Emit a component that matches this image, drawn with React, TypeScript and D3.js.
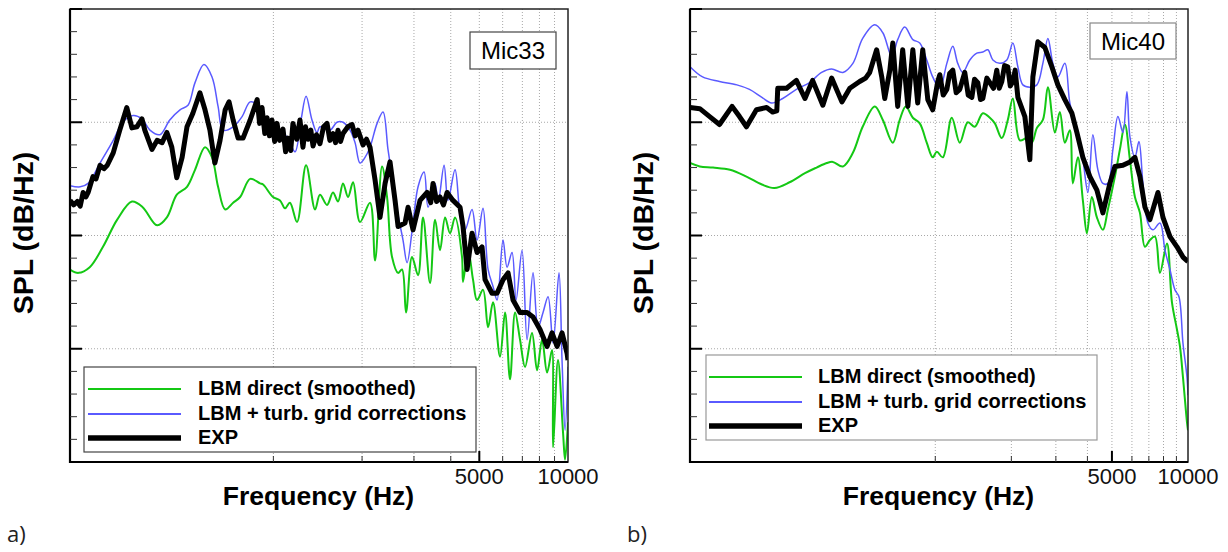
import React from "react";
import * as d3 from "d3";

// ---------- DATA (frequency in Hz, SPL in dB/Hz) ----------
const seriesNames = ["LBM direct (smoothed)", "LBM + turb. grid corrections", "EXP"];
const xTickLabels = [5000, 10000];
const gridFreqs = [1000, 2000, 3000, 4000, 5000, 6000, 7000, 8000, 9000];
const panelLabels = ["a)", "b)"];
const micLabels = ["Mic33", "Mic40"];

const micA_direct: [number, number][] = [
  [204,37.0],[218,36.7],[238,37.2],[264,39.0],[295,41.4],[331,43.0],[360,42.5],[403,40.9],[435,41.6],[470,43.6],
  [509,44.3],[542,45.8],[586,47.8],[619,46.9],[649,44.3],[686,42.3],[730,42.9],[771,43.4],[834,45.0],[901,44.6],
  [923,44.5],[997,43.4],[1053,43.1],[1095,42.4],[1138,42.9],[1203,41.2],[1291,46.2],[1385,42.3],[1439,43.6],[1521,42.7],
  [1593,43.8],[1657,43.0],[1723,44.6],[1792,43.4],[1864,44.7],[1968,41.2],[2128,42.9],[2214,37.8],[2338,46.1],[2431,43.4],
  [2528,38.1],[2650,36.7],[2733,37.0],[2820,33.2],[2955,38.1],[3098,36.5],[3221,41.6],[3402,35.8],[3539,41.4],[3678,38.7],
  [3826,41.6],[3976,40.2],[4136,41.6],[4368,38.1],[4403,35.9],[4580,38.7],[4760,36.1],[4913,34.3],[5147,35.2],[5354,31.9],
  [5566,34.1],[5878,29.3],[6114,33.2],[6356,27.3],[6612,33.2],[6873,30.8],[7149,28.4],[7549,31.4],[7852,28.1],[8164,30.8],
  [8492,27.9],[8827,29.9],[8897,21.3],[9248,29.0],[9620,22.6],[9773,20.2],[10000,23.5]
];
const micA_corr: [number, number][] = [
  [204,44.4],[221,44.3],[235,44.6],[258,46.4],[286,48.4],[308,50.0],[334,50.6],[358,50.3],[381,49.3],[412,48.9],
  [445,50.2],[482,51.1],[513,51.5],[542,53.5],[581,55.1],[619,54.0],[649,51.4],[675,49.3],[730,49.6],[783,50.5],
  [834,51.8],[888,51.5],[952,49.9],[1029,49.3],[1113,48.7],[1184,47.4],[1241,50.2],[1291,52.3],[1352,50.2],[1406,49.1],
  [1439,49.6],[1556,49.3],[1644,50.0],[1723,50.0],[1820,49.3],[1893,48.2],[1968,46.4],[2047,46.9],[2128,47.8],[2249,49.9],
  [2356,50.9],[2449,47.6],[2547,44.6],[2650,41.8],[2754,39.6],[2843,37.6],[2978,41.1],[3098,44.3],[3247,45.6],[3350,42.5],
  [3539,44.6],[3623,42.9],[3796,46.2],[3914,43.1],[4136,45.8],[4300,42.0],[4473,40.5],[4723,42.3],[4913,39.6],[5147,42.4],
  [5354,37.0],[5566,35.5],[5744,34.3],[6018,39.6],[6211,37.2],[6457,38.5],[6664,34.3],[6982,38.7],[7263,30.8],[7609,36.7],
  [7914,31.9],[8228,33.2],[8558,34.6],[8897,30.5],[9321,36.7],[9544,29.0],[9773,22.8],[10000,28.4]
];
const micA_exp: [number, number][] = [
  [204,43.1],[210,42.7],[216,43.0],[221,42.6],[226,43.8],[231,43.4],[235,43.8],[244,45.2],[250,45.0],[258,46.2],[266,45.9],[273,46.2],[286,47.3],[301,49.3],[318,51.3],
  [331,49.5],[344,49.6],[358,50.3],[366,49.3],[387,47.6],[403,48.4],[419,48.2],[435,49.1],[452,47.8],[470,45.1],
  [490,46.9],[509,49.6],[533,50.8],[563,52.6],[586,51.1],[609,49.3],[633,46.4],[659,48.4],[686,51.1],[707,51.8],
  [730,50.2],[759,48.6],[789,48.6],[834,50.2],[881,52.0],[898,49.9],[915,51.3],[935,49.0],[952,50.4],[970,48.8],[989,50.2],[1010,48.3],
  [1029,49.9],[1050,48.4],[1078,49.4],[1100,47.4],[1121,48.6],[1145,47.5],[1165,49.9],[1200,48.5],[1231,50.2],[1260,47.8],
  [1285,49.6],[1311,48.5],[1340,49.3],[1363,47.9],[1400,48.9],[1439,48.1],[1480,49.6],[1521,49.9],[1555,48.4],[1593,49.0],
  [1625,48.2],[1657,49.3],[1690,48.3],[1723,49.0],[1790,49.6],[1849,49.8],[1895,48.8],[1937,49.3],[2015,48.0],[2070,48.5],
  [2128,47.8],[2214,44.9],[2301,41.6],[2394,44.6],[2488,46.5],[2588,43.1],
  [2650,40.8],[2798,41.1],[2865,42.5],[2978,40.5],[3146,43.1],[3324,43.8],[3420,42.9],[3483,44.6],[3580,43.0],[3678,43.4],[3780,42.7],[3887,43.8],[4071,43.1],
  [4300,42.5],[4403,40.8],[4544,37.0],[4723,40.2],[4913,38.5],[5107,39.0],[5229,36.1],[5522,34.9],[5744,34.9],[6018,36.1],
  [6260,36.7],[6508,34.3],[6873,33.2],[7263,33.2],[7609,32.8],[8036,31.7],[8492,30.2],[8827,31.4],[9182,30.2],[9544,31.4],
  [9928,29.6],[10000,29.0]
];

const micB_direct: [number, number][] = [
  [107,46.4],[117,46.1],[132,46.0],[154,45.8],[179,45.2],[206,44.5],[231,44.2],[265,44.7],[305,45.5],[339,46.0],
  [372,46.4],[393,46.5],[431,46.1],[472,47.3],[516,49.6],[576,51.4],[620,50.2],[679,48.2],[723,50.2],[764,51.4],
  [815,50.4],[868,49.9],[925,48.2],[977,46.9],[1014,47.4],[1071,46.9],[1162,50.4],[1250,48.2],[1345,50.0],[1434,49.6],
  [1542,50.8],[1644,50.4],[1721,49.9],[1833,48.6],[1936,50.2],[2027,52.1],[2161,48.4],[2304,48.6],[2411,48.2],[2523,49.5],
  [2665,50.2],[2790,53.1],[2973,49.1],[3111,50.9],[3256,48.2],[3408,49.3],[3502,44.6],[3666,46.9],[3837,43.1],[3980,40.2],
  [4165,43.4],[4360,41.6],[4605,40.5],[4820,42.3],[5138,45.2],[5377,47.6],[5628,49.8],[5891,46.7],[6166,43.4],[6453,42.0],
  [6754,39.0],[7069,39.6],[7399,39.9],[7745,36.7],[8256,39.3],[8640,34.1],[9044,31.7],[9294,30.2],[9551,27.5],[9909,23.5],
  [10000,22.8]
];
const micB_corr: [number, number][] = [
  [107,54.9],[120,54.0],[140,53.6],[164,53.3],[184,52.9],[206,52.2],[225,51.7],[249,52.1],[282,52.9],[318,53.5],
  [355,54.4],[389,54.7],[431,54.4],[472,55.2],[516,57.4],[576,58.6],[620,57.9],[673,55.8],[710,57.3],[757,58.4],
  [815,57.3],[868,57.0],[925,55.5],[977,54.0],[1042,53.0],[1111,55.2],[1173,56.7],[1227,55.2],[1285,54.4],[1370,55.5],
  [1460,56.1],[1542,56.2],[1614,56.4],[1690,55.5],[1800,55.2],[1919,55.5],[2027,57.0],[2122,54.9],[2221,53.3],[2367,53.1],
  [2523,53.3],[2665,55.2],[2790,57.4],[2919,55.2],[3055,54.0],[3256,55.2],[3408,51.7],[3633,49.3],[3837,46.7],[4017,43.8],
  [4203,48.9],[4400,45.8],[4605,44.6],[4820,44.6],[5045,47.6],[5281,50.5],[5526,49.1],[5732,52.7],[5891,48.7],[6166,46.9],
  [6396,48.3],[6632,44.6],[6942,41.1],[7265,40.5],[7745,41.1],[8107,38.7],[8484,37.0],[8880,35.2],[9209,34.6],[9551,30.5],
  [9909,27.5],[10000,25.9]
];
const micB_exp: [number, number][] = [
  [107,51.3],[117,51.2],[128,50.5],[140,49.8],[157,51.4],[168,50.5],[179,49.6],[196,51.1],[215,51.3],[227,50.9],
  [236,51.0],[238,53.0],[258,53.0],[282,53.7],[305,52.1],[327,53.7],[359,51.5],[389,53.9],[427,51.8],[459,53.0],[502,53.6],
  [530,53.9],[550,54.4],[586,56.4],[614,54.0],[631,52.1],[661,54.6],[679,57.0],[710,51.4],[743,56.4],[779,51.4],[815,56.4],
  [852,51.7],[892,56.4],[934,52.0],[977,51.1],[1023,53.6],[1042,54.2],[1075,52.4],[1111,52.9],[1140,54.3],[1173,54.6],[1210,52.6],[1250,52.9],[1308,54.4],
  [1350,52.4],[1395,52.2],[1430,53.8],[1473,53.5],[1510,52.0],[1542,52.1],[1600,53.9],[1644,53.5],[1700,53.0],[1751,54.6],[1790,53.0],[1833,53.6],[1880,55.0],[1936,54.9],[1980,53.2],[2027,53.6],[2070,54.6],[2122,52.2],[2262,50.5],
  [2367,46.7],[2433,54.0],[2546,57.1],[2714,56.6],[2892,54.9],[3055,53.3],[3256,52.0],[3471,50.8],[3633,49.1],[3837,46.9],
  [4090,45.2],[4360,44.0],[4605,42.0],[4909,44.6],[5138,46.1],[5526,46.2],[5891,46.5],[6166,46.9],[6453,45.2],[6754,42.5],
  [7069,41.4],[7605,43.8],[7960,41.6],[8484,39.9],[9044,39.0],[9551,38.1],[10000,37.7]
];

const yDomain: [number, number] = [20, 60];
const yMajor = [20, 30, 40, 50, 60];

// ---------- STYLES ----------
const COLORS = ["#14c814", "#5a5aff", "#000000"];
const WIDTHS = [2, 1.5, 5];
const LEGEND_WIDTHS = [2, 2, 5.5];
const FONT = "'Liberation Sans', Arial, Helvetica, sans-serif";

type PanelCfg = {
  id: string;
  left: number; right: number; top: number; bottom: number;
  fmin: number;
  series: [number, number][][];
  mic: string; micBox: { x: number; y: number; w: number; h: number; base: number };
  legend: { x: number; y: number; w: number; h: number; lx0: number; lx1: number; tx: number; bases: number[]; stroke: string };
  micStroke: string;
  label: string; labelX: number;
  splX: number; freqX: number;
};

const panels: PanelCfg[] = [
  {
    id: "a", left: 70, right: 568, top: 9, bottom: 462, fmin: 204,
    series: [micA_direct, micA_corr, micA_exp],
    mic: micLabels[0], micBox: { x: 470, y: 32, w: 86, h: 37, base: 59 },
    legend: { x: 84, y: 367, w: 392, h: 85, lx0: 88, lx1: 181, tx: 198, bases: [395, 420, 444], stroke: "#444" },
    micStroke: "#444",
    label: panelLabels[0], labelX: 7, splX: 33, freqX: 318.5,
  },
  {
    id: "b", left: 690, right: 1188, top: 9, bottom: 462, fmin: 107,
    series: [micB_direct, micB_corr, micB_exp],
    mic: micLabels[1], micBox: { x: 1090, y: 23, w: 86, h: 36, base: 50 },
    legend: { x: 706, y: 355, w: 391, h: 85, lx0: 709, lx1: 802, tx: 818, bases: [383, 408, 432], stroke: "#999" },
    micStroke: "#888",
    label: panelLabels[1], labelX: 627, splX: 653, freqX: 938.5,
  },
];

function Panel({ p }: { p: PanelCfg }) {
  const x = d3.scaleLog().domain([p.fmin, 10000]).range([p.left, p.right]);
  const y = d3.scaleLinear().domain(yDomain).range([p.bottom, p.top]);
  const smooth = d3.line<[number, number]>().x((d) => x(d[0])).y((d) => y(d[1])).curve(d3.curveCatmullRom.alpha(0.5));
  const jagged = d3.line<[number, number]>().x((d) => x(d[0])).y((d) => y(d[1]));
  const yTicks = d3.range(yDomain[0], yDomain[1] + 0.01, 2);
  const midY = 233;
  const clipId = `clip-${p.id}`;
  return (
    <g>
      <defs>
        <clipPath id={clipId}>
          <rect x={p.left} y={p.top} width={p.right - p.left} height={p.bottom - p.top} />
        </clipPath>
      </defs>
      {/* grid */}
      {gridFreqs.map((f) => (
        <line key={"gx" + f} x1={x(f)} x2={x(f)} y1={p.top} y2={p.bottom} stroke="#a8a8a8" strokeWidth={1} strokeDasharray="1 2" />
      ))}
      {yMajor.filter((v) => v > yDomain[0] && v < yDomain[1]).map((v) => (
        <line key={"gy" + v} x1={p.left} x2={p.right} y1={y(v)} y2={y(v)} stroke="#a8a8a8" strokeWidth={1} strokeDasharray="1 2" />
      ))}
      {/* series */}
      <g clipPath={`url(#${clipId})`}>
        {p.series.map((s, i) => (
          <path key={i} d={(i === 2 ? jagged(s) : smooth(s)) || ""} fill="none" stroke={COLORS[i]} strokeWidth={WIDTHS[i]} strokeLinejoin="round" />
        ))}
      </g>
      {/* frame */}
      <rect x={p.left} y={p.top} width={p.right - p.left} height={p.bottom - p.top} fill="none" stroke="#222" strokeWidth={1.5} />
      <line x1={p.left} x2={p.left} y1={p.top} y2={p.bottom + 1} stroke="#000" strokeWidth={2.2} />
      <line x1={p.left - 1} x2={p.right} y1={p.bottom} y2={p.bottom} stroke="#000" strokeWidth={2.2} />
      {/* y ticks */}
      {yTicks.map((v) => {
        const major = yMajor.includes(v);
        return (
          <line key={"yt" + v} x1={p.left} x2={p.left + (major ? 12 : 7)} y1={y(v)} y2={y(v)}
            stroke={major ? "#000" : "#333"} strokeWidth={major ? 2 : 1} />
        );
      })}
      {/* x ticks */}
      {gridFreqs.map((f) => {
        const major = xTickLabels.includes(f);
        return (
          <line key={"xt" + f} x1={x(f)} x2={x(f)} y1={p.bottom} y2={p.bottom - (major ? 11 : 6)}
            stroke={major ? "#000" : "#333"} strokeWidth={major ? 2 : 1} />
        );
      })}
      {xTickLabels.map((f) => (
        <text key={"xl" + f} x={x(f)} y={484} textAnchor="middle" fontFamily={FONT} fontSize={22} fill="#111">{f}</text>
      ))}
      {/* legend */}
      <rect x={p.legend.x} y={p.legend.y} width={p.legend.w} height={p.legend.h} fill="#fff" stroke={p.legend.stroke} strokeWidth={1.2} />
      {seriesNames.map((n, i) => (
        <g key={"lg" + i}>
          <line x1={p.legend.lx0} x2={p.legend.lx1} y1={p.legend.bases[i] - 6} y2={p.legend.bases[i] - 6} stroke={COLORS[i]} strokeWidth={LEGEND_WIDTHS[i]} />
          <text x={p.legend.tx} y={p.legend.bases[i]} fontFamily={FONT} fontWeight="bold" fontSize={20} fill="#000">{n}</text>
        </g>
      ))}
      {/* mic label */}
      <rect x={p.micBox.x} y={p.micBox.y} width={p.micBox.w} height={p.micBox.h} fill="#fff" stroke={p.micStroke} strokeWidth={1.2} />
      <text x={p.micBox.x + p.micBox.w / 2} y={p.micBox.base} textAnchor="middle" fontFamily={FONT} fontSize={24} fill="#000">{p.mic}</text>
      {/* axis titles */}
      <text transform={`translate(${p.splX},${midY}) rotate(-90)`} textAnchor="middle" fontFamily={FONT} fontWeight="bold" fontSize={28.5} fill="#000">SPL (dB/Hz)</text>
      <text x={p.freqX} y={505} textAnchor="middle" fontFamily={FONT} fontWeight="bold" fontSize={26.5} fill="#000">Frequency (Hz)</text>
      <text x={p.labelX} y={542} fontFamily="'Open Sans', 'DejaVu Sans', sans-serif" fontSize={22} fill="#222">{p.label}</text>
    </g>
  );
}

export default function App() {
  return (
    <svg width={1228} height={552} viewBox="0 0 1228 552" style={{ position: "absolute", left: 0, top: 0, background: "#fff" }}>
      <rect x={0} y={0} width={1228} height={552} fill="#fff" />
      {panels.map((p) => (
        <Panel key={p.id} p={p} />
      ))}
    </svg>
  );
}
